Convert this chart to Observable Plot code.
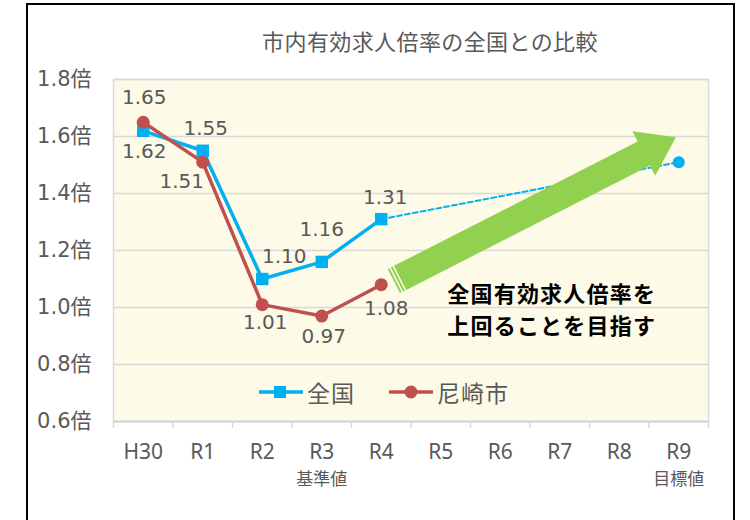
<!DOCTYPE html>
<html><head><meta charset="utf-8">
<script src="https://cdn.jsdelivr.net/npm/d3@7"></script>
<script src="https://cdn.jsdelivr.net/npm/@observablehq/plot@0.6"></script>
<style>
body{margin:0;background:#fff;}
#wrap{position:relative;width:750px;height:520px;overflow:hidden;background:#fff;font-family:"Noto Sans CJK JP",sans-serif;}
#frame{position:absolute;left:26px;top:3px;width:709px;height:560px;border:2px solid #000;box-sizing:border-box;pointer-events:none;}
#title{position:absolute;left:130px;width:600px;top:24px;text-align:center;font-size:22px;letter-spacing:0.4px;color:#595959;line-height:32px;}
#chart{position:absolute;left:0;top:0;}
#legend{position:absolute;top:376px;left:0;width:750px;height:32px;font-size:23px;color:#595959;}
.li{position:absolute;top:0;display:flex;align-items:center;height:32px;letter-spacing:1px;}
</style></head>
<body><div id="wrap"><div id="chart"></div><div id="title"></div><div id="legend"></div><div id="frame"></div></div>
<script>
const titleText = "市内有効求人倍率の全国との比較";
const categories = ["H30","R1","R2","R3","R4","R5","R6","R7","R8","R9"];
const categoryNotes = [{cat:"R3", note:"基準値"},{cat:"R9", note:"目標値"}];
const seriesNames = ["全国","尼崎市"];
const nationalValues = [1.62, 1.55, 1.10, 1.16, 1.31];
const cityValues = [1.65, 1.51, 1.01, 0.97, 1.08];
const targetCategory = "R9";
const targetValue = 1.51;
const yTicks = [0.6, 0.8, 1.0, 1.2, 1.4, 1.6, 1.8];
const noteLines = ["全国有効求人倍率を", "上回ることを目指す"];
// annotation anchor points (x = category index, y = ratio)
const arrowFrom = {x: 4.22, y: 1.091};
const arrowTo = {x: 8.96, y: 1.596};
const notePos = {x: 5.11, y: 1.0};

const blue = "#00b0f0", red = "#c0504d", green = "#92d050", gray = "#595959";
const idx = c => categories.indexOf(c);
const national = nationalValues.map((v,i)=>({i, v}));
const city = cityValues.map((v,i)=>({i, v}));
const projection = [{i: nationalValues.length-1, v: nationalValues[nationalValues.length-1]}, {i: idx(targetCategory), v: targetValue}];

// label offsets (pixels) per point
const natOff = [[1,21],[3,-22],[22,-22],[0,-32],[4,-22]];
const cityOff = [[1,-25],[-21,19],[3,18],[2,21],[5,24]];
const numFont = "DejaVu Sans, Noto Sans CJK JP, sans-serif";

function labelMarks(data, offs){
  return data.map((d,k)=>Plot.text([d], {x:"i", y:"v", text: d=>d.v.toFixed(2), dx: offs[k][0], dy: offs[k][1],
    fontSize:20, fontFamily:numFont, fill:gray}));
}

function arrowMark(index, scales, values, dims){
  const x0 = scales.x(arrowFrom.x), y0 = scales.y(arrowFrom.y);
  const x1 = scales.x(arrowTo.x), y1 = scales.y(arrowTo.y);
  const dx = x1-x0, dy = y1-y0, L = Math.hypot(dx,dy);
  const ux = dx/L, uy = dy/L, px = -uy, py = ux;
  const W = 13.5, H = 25, HL = 36;
  const P = (s,w) => [x0+ux*s+px*w, y0+uy*s+py*w];
  const poly = pts => "M" + pts.map(p=>p.join(",")).join("L") + "Z";
  const g = d3.create("svg:g");
  const parts = [
    [P(0,-W),P(2,-W),P(2,W),P(0,W)],
    [P(3.5,-W),P(5.5,-W),P(5.5,W),P(3.5,W)],
    [P(7,-W),P(L-HL,-W),P(L-HL,-H),P(L,0),P(L-HL,H),P(L-HL,W),P(7,W)]
  ];
  for (const p of parts) g.append("path").attr("d", poly(p)).attr("fill", green);
  return g.node();
}

const boundaries = d3.range(categories.length+1).map(i=>i-0.5);

const plot = Plot.plot({
  width: 750, height: 520,
  marginLeft: 113, marginRight: 42, marginTop: 79, marginBottom: 99,
  style: {background:"transparent", overflow:"visible"},
  x: {domain:[-0.5, categories.length-0.5]},
  y: {domain:[0.6, 1.8]},
  marks: [
    Plot.frame({fill:"#fdfae7", stroke:"#d9d9d9", strokeWidth:1.5}),
    Plot.gridY(yTicks, {stroke:"#d9d9d9", strokeOpacity:1, strokeWidth:1.5}),
    Plot.ruleY([0.6], {stroke:"#d0d0d0", strokeWidth:1.5}),
    Plot.axisY({ticks: yTicks, tickFormat: d=>d.toFixed(1)+"倍", tickSize:0, tickPadding:22, fontSize:21, fontFamily:numFont, fill:gray, label:null}),
    Plot.axisX({ticks: boundaries, tickFormat: ()=>"", tickSize:7, stroke:"#d9d9d9", strokeWidth:1.5, label:null}),
    Plot.axisX({ticks: d3.range(categories.length), tickFormat: i=>categories[i], tickSize:0, tickPadding:23, fontSize:21, fontFamily:"Noto Sans, sans-serif", fill:gray, label:null}),
    Plot.text(categoryNotes, {x: d=>idx(d.cat), y: 0.6, text:"note", dy: 58, fontSize:17, fontFamily:"Noto Sans CJK JP", fill:gray}),
    Plot.line(projection, {x:"i", y:"v", stroke:blue, strokeWidth:2, strokeDasharray:"5,3"}),
    Plot.dot([projection[1]], {x:"i", y:"v", r:6, fill:blue, stroke:"none"}),
    Plot.line(national, {x:"i", y:"v", stroke:blue, strokeWidth:3.5}),
    Plot.dot(national, {x:"i", y:"v", symbol:"square", r:7, fill:blue, stroke:"none"}),
    Plot.line(city, {x:"i", y:"v", stroke:red, strokeWidth:3.5}),
    Plot.dot(city, {x:"i", y:"v", r:6.5, fill:red, stroke:"none"}),
    ...labelMarks(national, natOff),
    ...labelMarks(city, cityOff),
    arrowMark,
    Plot.text([noteLines.join("\n")], {x: notePos.x, y: notePos.y, text: d=>d, textAnchor:"start", lineAnchor:"middle", lineHeight:1.45,
      fontSize:22, fontWeight:"bold", fontFamily:"Noto Sans CJK JP", fill:"#000"})
  ]
});
d3.select(plot).selectAll("text").filter(function(){ return this.textContent.includes(noteLines[0]); })
  .style("letter-spacing", "1.2px");
document.getElementById("chart").append(plot);
document.getElementById("title").textContent = titleText;

// legend inside plot area
const legend = document.getElementById("legend");
const items = [
  {name: seriesNames[0], color: blue, sym: "square", left: 258},
  {name: seriesNames[1], color: red, sym: "circle", left: 388}
];
for (const it of items){
  const div = document.createElement("div");
  div.className = "li"; div.style.left = it.left + "px";
  const s = d3.create("svg").attr("width", 46).attr("height", 32);
  s.append("line").attr("x1",1).attr("x2",45).attr("y1",16).attr("y2",16).attr("stroke",it.color).attr("stroke-width",3.5);
  if (it.sym === "square") s.append("rect").attr("x",16).attr("y",10).attr("width",12).attr("height",12).attr("fill",it.color);
  else s.append("circle").attr("cx",23).attr("cy",16).attr("r",6.5).attr("fill",it.color);
  div.append(s.node());
  const t = document.createElement("span"); t.textContent = it.name; t.style.marginLeft = "3px";
  div.append(t);
  legend.append(div);
}
</script></body></html>
